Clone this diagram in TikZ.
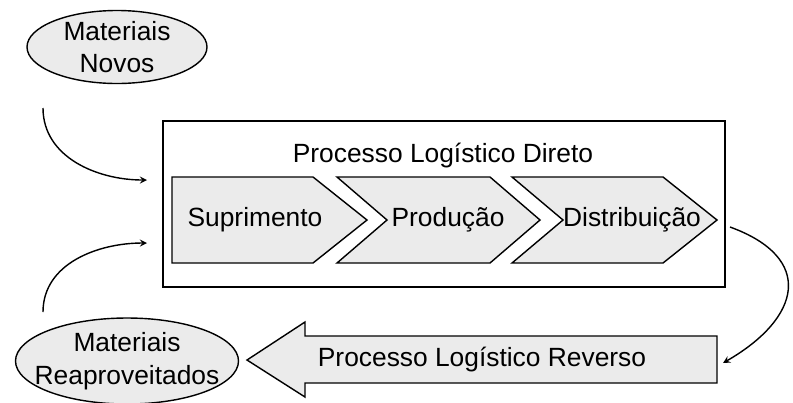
\documentclass[tikz,border=0pt]{standalone}
\usepackage{fontspec}
\setmainfont{Liberation Sans}
\usetikzlibrary{shapes,arrows}

\begin{document}
\begin{tikzpicture}[font=\fontsize{15}{18.5}\selectfont,
  chev/.style={draw, line width=0.8pt, fill=black!8, line join=miter},
  matnode/.style={draw, ellipse, line width=0.8pt, fill=black!8, inner sep=0pt},
  flow/.style={>=stealth, ->, line width=0.8pt}]
\useasboundingbox (0,0) rectangle (15.86,8.04);

% materials
\node[matnode, minimum width=3.6cm, minimum height=1.46cm,
  label={[align=center]center:Materiais\\Novos}] (novos) at (2.34,7.10) {};
\node[matnode, minimum width=4.46cm, minimum height=1.72cm,
  label={[align=center]center:Materiais\\Reaproveitados}] (reapr) at (2.54,0.82) {};

% direct process box with chevrons
\draw[line width=0.8pt] (3.26,5.62) rectangle (14.50,2.30);
\node (direto) at (8.86,4.93) {Processo Log\'istico Direto};
\draw[chev] (3.44,4.50) -- (6.26,4.50) -- (7.34,3.64) -- (6.26,2.78) -- (3.44,2.78) -- cycle;
\draw[chev] (6.74,4.50) -- (9.80,4.50) -- (10.80,3.64) -- (9.80,2.78) -- (6.74,2.78) -- (7.74,3.64) -- cycle;
\draw[chev] (10.24,4.50) -- (13.26,4.50) -- (14.34,3.64) -- (13.26,2.78) -- (10.24,2.78) -- (11.26,3.64) -- cycle;
\node (supr) at (5.10,3.64) {Suprimento};
\node (prod) at (8.96,3.64) {Produção};
\node (dist) at (12.64,3.64) {Distribuição};

% reverse process arrow
\draw[chev] (4.94,0.84) -- (6.10,1.60) -- (6.10,1.32) -- (14.34,1.32) -- (14.34,0.38) -- (6.10,0.38) -- (6.10,0.10) -- cycle;
\node (reverso) at (9.64,0.84) {Processo Log\'istico Reverso};

% flows
\coordinate (in1s) at (0.86,5.88);
\coordinate (in1e) at (2.94,4.44);
\coordinate (in2s) at (0.86,1.80);
\coordinate (in2e) at (2.94,3.18);
\coordinate (outs) at (14.60,3.50);
\coordinate (oute) at (14.46,0.78);
\draw[flow] (in1s) to[out=-90, in=180] (in1e);
\draw[flow] (in2s) to[out=90, in=180] (in2e);
\draw[flow] (outs) to[out=-20, in=30, looseness=1.7] (oute);
\end{tikzpicture}
\end{document}
